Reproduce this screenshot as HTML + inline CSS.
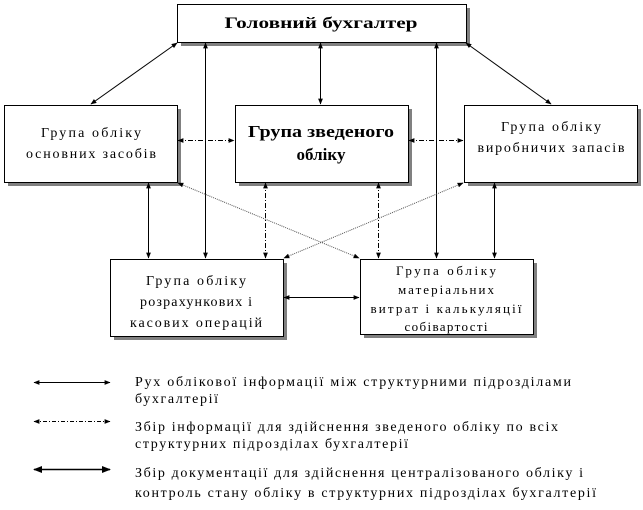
<!DOCTYPE html>
<html><head><meta charset="utf-8"><style>
html,body{margin:0;padding:0;background:#fff;}
svg{display:block;}
text{font-family:"Liberation Serif","Times New Roman",Times,serif;fill:#000;}
</style></head><body>
<svg width="643" height="510" viewBox="0 0 643 510" xmlns="http://www.w3.org/2000/svg">
<defs>
<marker id="a" viewBox="0 0 10 10" refX="9" refY="5" markerWidth="6" markerHeight="6" orient="auto-start-reverse"><path d="M0,1 L10,5 L0,9 z" fill="#000"/></marker>
</defs>
<g fill="#808080">
<rect x="181" y="8" width="289" height="38"/>
<rect x="8" y="109" width="173" height="77"/>
<rect x="239" y="109" width="173" height="77"/>
<rect x="468" y="109" width="173" height="77"/>
<rect x="114" y="263" width="173" height="77"/>
<rect x="364" y="263" width="173" height="75"/>
</g>
<g fill="#fff" stroke="#000" stroke-width="1">
<rect x="177.5" y="4.5" width="289" height="38"/>
<rect x="4.5" y="105.5" width="173" height="77"/>
<rect x="235.5" y="105.5" width="173" height="77"/>
<rect x="464.5" y="105.5" width="173" height="77"/>
<rect x="110.5" y="259.5" width="173" height="77"/>
<rect x="360.5" y="259.5" width="173" height="75"/>
</g>
<g stroke="#000" stroke-width="1" fill="none" marker-start="url(#a)" marker-end="url(#a)">
<line x1="177" y1="43" x2="91" y2="104"/>
<line x1="466" y1="43" x2="551" y2="104"/>
<line x1="320.5" y1="43" x2="320.5" y2="104"/>
<line x1="205.5" y1="43" x2="205.5" y2="258"/>
<line x1="436.5" y1="43" x2="436.5" y2="258"/>
<line x1="148.5" y1="183" x2="148.5" y2="258"/>
<line x1="494.5" y1="183" x2="494.5" y2="258"/>
<line x1="284" y1="297.5" x2="359" y2="297.5"/>
</g>
<g stroke="#000" stroke-width="1" fill="none" stroke-dasharray="5,2,1,2" marker-start="url(#a)" marker-end="url(#a)">
<line x1="178" y1="140.5" x2="234" y2="140.5"/>
<line x1="409" y1="140.5" x2="463" y2="140.5"/>
<line x1="265.5" y1="183" x2="265.5" y2="258"/>
<line x1="378.5" y1="183" x2="378.5" y2="258"/>
</g>
<g stroke="#555" stroke-width="1" fill="none" stroke-dasharray="1,1" marker-start="url(#a)" marker-end="url(#a)">
<line x1="178" y1="183" x2="359" y2="258"/>
<line x1="463" y1="183" x2="284" y2="258"/>
</g>
<text x="321" y="28" font-size="16" font-weight="bold" text-anchor="middle" textLength="193" lengthAdjust="spacingAndGlyphs">Головний бухгалтер</text>
<text x="91" y="137" font-size="14" text-anchor="middle" textLength="100">Група обліку</text>
<text x="91" y="158" font-size="14" text-anchor="middle" textLength="130">основних засобів</text>
<text x="321" y="137" font-size="17" font-weight="bold" text-anchor="middle" textLength="146" lengthAdjust="spacingAndGlyphs">Група зведеного</text>
<text x="321" y="160" font-size="17" font-weight="bold" text-anchor="middle">обліку</text>
<text x="551" y="131" font-size="14" text-anchor="middle" textLength="100">Група обліку</text>
<text x="551" y="152" font-size="14" text-anchor="middle" textLength="147">виробничих запасів</text>
<text x="196" y="285" font-size="14" text-anchor="middle" textLength="100">Група обліку</text>
<text x="196" y="306" font-size="14" text-anchor="middle" textLength="112">розрахункових і</text>
<text x="196" y="327" font-size="14" text-anchor="middle" textLength="132">касових операцій</text>
<text x="446" y="275" font-size="13" text-anchor="middle" textLength="100">Група обліку</text>
<text x="446" y="294" font-size="13" text-anchor="middle" textLength="96">матеріальних</text>
<text x="446" y="313" font-size="13" text-anchor="middle" textLength="151">витрат і калькуляції</text>
<text x="446" y="331" font-size="13" text-anchor="middle" textLength="83">собівартості</text>
<g stroke="#000" fill="none" marker-start="url(#a)" marker-end="url(#a)">
<line x1="34" y1="382.5" x2="110" y2="382.5" stroke-width="1"/>
<line x1="34" y1="421.5" x2="110" y2="421.5" stroke-width="1" stroke-dasharray="4,2,1,2"/>
<line x1="34" y1="469.5" x2="110" y2="469.5" stroke-width="1.5"/>
</g>
<g font-size="14">
<text x="135" y="386" textLength="436">Рух облікової інформації між структурними підрозділами</text>
<text x="135" y="403" textLength="83">бухгалтерії</text>
<text x="135" y="431" textLength="423">Збір інформації для здійснення зведеного обліку по всіх</text>
<text x="135" y="448" textLength="273">структурних підрозділах бухгалтерії</text>
<text x="135" y="477" textLength="448">Збір документації для здійснення централізованого обліку і</text>
<text x="135" y="497" textLength="461">контроль стану обліку в структурних підрозділах бухгалтерії</text>
</g>
</svg>
</body></html>
